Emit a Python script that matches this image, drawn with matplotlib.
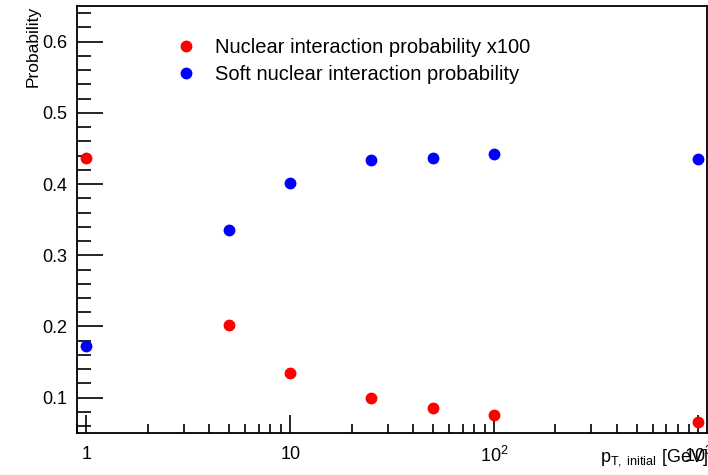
import matplotlib
matplotlib.use("Agg")
import matplotlib.pyplot as plt
from matplotlib.ticker import FixedLocator, FixedFormatter, MultipleLocator, LogLocator, NullFormatter

plt.rcParams["font.family"] = ["Liberation Sans", "DejaVu Sans"]
plt.rcParams["mathtext.fontset"] = "custom"
plt.rcParams["mathtext.rm"] = "Liberation Sans"
plt.rcParams["mathtext.it"] = "Liberation Sans"

# pT initial [GeV]
pt = [1, 5, 10, 25, 50, 100, 1000]
nuclear_x100 = [0.436, 0.202, 0.135, 0.100, 0.086, 0.076, 0.066]
soft_nuclear = [0.172, 0.336, 0.401, 0.434, 0.437, 0.442, 0.435]

x_ticks = [1, 10, 100, 1000]
x_tick_labels = ["1", "10", "$10^2$", "$10^3$"]


def main():
    fig = plt.figure(figsize=(7.08, 4.75), dpi=100)
    ax = fig.add_axes([0.1088, 0.0878, 0.8898, 0.8995])

    ax.plot(pt, nuclear_x100, "o", color="#ff0000", markersize=7.5,
            label="Nuclear interaction probability x100")
    ax.plot(pt, soft_nuclear, "o", color="#0000ff", markersize=7.5,
            label="Soft nuclear interaction probability")

    ax.set_xscale("log")
    ax.set_xlim(0.9, 1107)
    ax.set_ylim(0.05, 0.65)

    ax.xaxis.set_major_locator(FixedLocator(x_ticks))
    ax.xaxis.set_major_formatter(FixedFormatter(x_tick_labels))
    ax.xaxis.set_minor_locator(LogLocator(base=10, subs=range(2, 10)))
    ax.xaxis.set_minor_formatter(NullFormatter())
    ax.yaxis.set_major_locator(MultipleLocator(0.1))
    ax.yaxis.set_minor_locator(MultipleLocator(0.02))

    ax.tick_params(axis="both", which="both", direction="in", color="black",
                   labelsize=13, width=1.2)
    ax.tick_params(axis="y", which="major", length=19, pad=7)
    ax.tick_params(axis="y", which="minor", length=10)
    ax.tick_params(axis="x", which="major", length=13, pad=9)
    ax.tick_params(axis="x", which="minor", length=6.5)
    for side in ax.spines.values():
        side.set_linewidth(1.3)

    ax.set_ylabel("Probability", fontsize=12.5, loc="top")
    ax.yaxis.set_label_coords(-0.057, 1.0)
    fig.text(0.999, 0.015, r"$p_{T,\ \mathrm{initial}}$ [GeV]",
             ha="right", va="bottom", fontsize=13)

    ax.legend(loc="upper left", bbox_to_anchor=(0.1285, 0.968), frameon=False,
              fontsize=14.5, handletextpad=0.95, labelspacing=0.41,
              handlelength=1.0, markerscale=1.0)

    fig.savefig("out.png", dpi=100)


if __name__ == "__main__":
    main()
